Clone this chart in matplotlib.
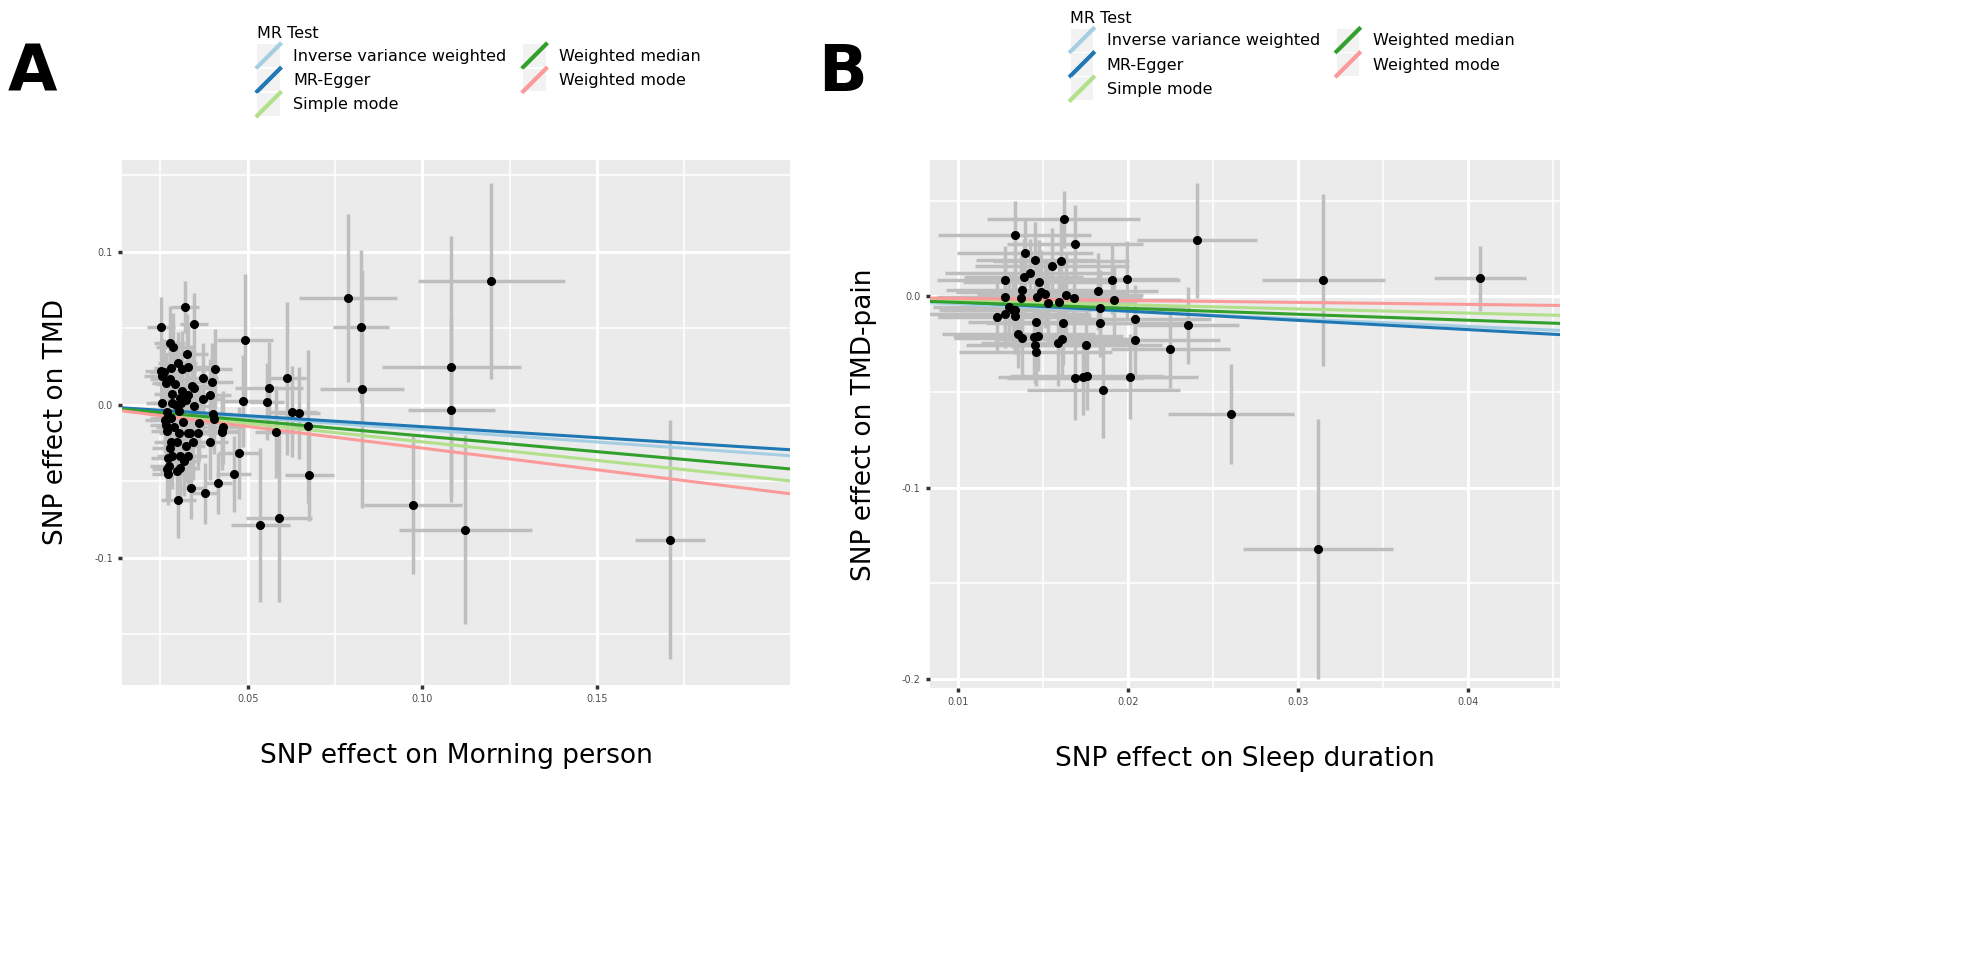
import matplotlib.pyplot as plt
import numpy as np
from matplotlib.legend_handler import HandlerBase
from matplotlib.lines import Line2D
from matplotlib.patches import Rectangle

# ---- panel A: Morning person -> TMD ----
a_x = [0.0252, 0.0321, 0.0346, 0.0493, 0.0788, 0.0825, 0.1198, 0.1083, 0.0827, 0.1083,
       0.0561, 0.0613, 0.0485, 0.0555, 0.0627, 0.0647, 0.0581, 0.0673, 0.0676, 0.0474,
       0.0460, 0.0416, 0.0377, 0.0336, 0.0301, 0.0393, 0.0425, 0.0974, 0.1123, 0.0590,
       0.0536, 0.1710,
       0.0276, 0.0286, 0.0325, 0.0299, 0.0281, 0.0312, 0.0328, 0.0252, 0.0259, 0.0254,
       0.0276, 0.0405, 0.0371, 0.0397, 0.0266, 0.0292, 0.0339, 0.0347, 0.0313, 0.0282,
       0.0329, 0.0392, 0.0373, 0.0306, 0.0323, 0.0282, 0.0254, 0.0294, 0.0347, 0.0309,
       0.0269, 0.0302, 0.0262, 0.0279, 0.0315, 0.0359, 0.0400, 0.0403, 0.0266, 0.0288,
       0.0302, 0.0269, 0.0328, 0.0335, 0.0356, 0.0280, 0.0296, 0.0343, 0.0323, 0.0276,
       0.0284, 0.0306, 0.0328, 0.0272, 0.0318, 0.0274, 0.0306, 0.0270, 0.0298, 0.0272,
       0.0429, 0.0425]
a_y = [0.0506, 0.0636, 0.0529, 0.0423, 0.0698, 0.0510, 0.0808, 0.0250, 0.0103, -0.0034,
       0.0110, 0.0174, 0.0027, 0.0021, -0.0044, -0.0052, -0.0176, -0.0140, -0.0456, -0.0316,
       -0.0453, -0.0512, -0.0577, -0.0545, -0.0622, -0.0240, -0.0178, -0.0654, -0.0815, -0.0741,
       -0.0785, -0.0882,
       0.0405, 0.0378, 0.0332, 0.0275, 0.0240, 0.0234, 0.0249, 0.0222, 0.0213, 0.0190,
       0.0169, 0.0234, 0.0172, 0.0151, 0.0140, 0.0133, 0.0121, 0.0112, 0.0089, 0.0071,
       0.0062, 0.0067, 0.0041, 0.0044, 0.0030, 0.0012, 0.0009, 0.0000, -0.0009, 0.0009,
       -0.0044, -0.0041, -0.0098, -0.0089, -0.0115, -0.0119, -0.0062, -0.0094, -0.0133, -0.0142,
       -0.0181, -0.0174, -0.0187, -0.0183, -0.0183, -0.0245, -0.0245, -0.0243, -0.0272, -0.0279,
       -0.0337, -0.0332, -0.0332, -0.0350, -0.0368, -0.0400, -0.0414, -0.0417, -0.0432, -0.0453,
       -0.0147, -0.0169]
a_sex = [0.0040, 0.0040, 0.0040, 0.0080, 0.0140, 0.0080, 0.0210, 0.0200, 0.0120, 0.0125,
         0.0098, 0.0055, 0.0060, 0.0050, 0.0070, 0.0060, 0.0060, 0.0040, 0.0070, 0.0060,
         0.0050, 0.0040, 0.0040, 0.0040, 0.0050, 0.0050, 0.0050, 0.0140, 0.0190, 0.0095,
         0.0085, 0.0100,
         0.0045, 0.0050, 0.0060, 0.0055, 0.0050, 0.0045, 0.0060, 0.0045, 0.0040, 0.0050,
         0.0055, 0.0050, 0.0045, 0.0060, 0.0040, 0.0055, 0.0060, 0.0050, 0.0045, 0.0050,
         0.0055, 0.0060, 0.0050, 0.0045, 0.0055, 0.0060, 0.0045, 0.0050, 0.0055, 0.0060,
         0.0045, 0.0050, 0.0055, 0.0060, 0.0050, 0.0065, 0.0055, 0.0060, 0.0045, 0.0050,
         0.0055, 0.0045, 0.0060, 0.0050, 0.0055, 0.0050, 0.0045, 0.0060, 0.0055, 0.0050,
         0.0045, 0.0050, 0.0055, 0.0050, 0.0045, 0.0055, 0.0050, 0.0045, 0.0050, 0.0045,
         0.0060, 0.0050]
a_sey = [0.020, 0.017, 0.020, 0.043, 0.055, 0.050, 0.064, 0.085, 0.078, 0.060,
         0.030, 0.050, 0.030, 0.025, 0.030, 0.030, 0.030, 0.050, 0.030, 0.030,
         0.025, 0.020, 0.020, 0.020, 0.025, 0.025, 0.025, 0.045, 0.062, 0.055,
         0.050, 0.078,
         0.024, 0.022, 0.026, 0.020, 0.022, 0.025, 0.028, 0.020, 0.022, 0.024,
         0.021, 0.026, 0.023, 0.025, 0.020, 0.022, 0.027, 0.024, 0.022, 0.020,
         0.025, 0.023, 0.022, 0.024, 0.026, 0.021, 0.020, 0.025, 0.023, 0.022,
         0.024, 0.026, 0.021, 0.022, 0.025, 0.024, 0.022, 0.023, 0.021, 0.024,
         0.022, 0.020, 0.026, 0.023, 0.024, 0.022, 0.021, 0.025, 0.023, 0.022,
         0.021, 0.024, 0.022, 0.020, 0.023, 0.021, 0.022, 0.020, 0.021, 0.020,
         0.024, 0.022]

# ---- panel B: Sleep duration -> TMD-pain ----
b_x = [0.01624, 0.01335, 0.01690, 0.01397, 0.01456, 0.01606, 0.01555, 0.01428, 0.01388, 0.01281,
       0.01481, 0.01905, 0.01994, 0.01380, 0.01490, 0.01513, 0.01827, 0.01639, 0.01686, 0.01468,
       0.01280, 0.01371, 0.01595, 0.01920, 0.01532, 0.01838, 0.01304, 0.01323, 0.01338, 0.01281,
       0.01336, 0.01232, 0.02042, 0.01462, 0.01618, 0.01837, 0.02352, 0.01357, 0.01380, 0.01449,
       0.01475, 0.01612, 0.01590, 0.01753, 0.02040, 0.01452, 0.01460, 0.02251, 0.01692, 0.01736,
       0.01760, 0.02011, 0.01856, 0.02608, 0.02407, 0.03150, 0.04070, 0.03120]
b_y = [0.0403, 0.0319, 0.0276, 0.0227, 0.0189, 0.0183, 0.0159, 0.0120, 0.0103, 0.0086,
       0.0077, 0.0087, 0.0089, 0.0036, 0.0024, 0.0014, 0.0026, 0.0006, -0.0006, -0.0003,
       -0.0003, -0.0007, -0.0029, -0.0021, -0.0036, -0.0060, -0.0053, -0.0071, -0.0069, -0.0091,
       -0.0103, -0.0109, -0.0120, -0.0133, -0.0139, -0.0137, -0.0151, -0.0194, -0.0220, -0.0213,
       -0.0209, -0.0221, -0.0246, -0.0254, -0.0229, -0.0254, -0.0290, -0.0277, -0.0426, -0.0419,
       -0.0414, -0.0419, -0.0490, -0.0616, 0.0293, 0.0084, 0.0094, -0.1320]
b_sex = [0.0045, 0.0045, 0.0040, 0.0040, 0.0035, 0.0040, 0.0045, 0.0050, 0.0035, 0.0040,
         0.0045, 0.0040, 0.0030, 0.0045, 0.0050, 0.0040, 0.0035, 0.0045, 0.0040, 0.0045,
         0.0040, 0.0050, 0.0045, 0.0040, 0.0045, 0.0050, 0.0045, 0.0040, 0.0045, 0.0050,
         0.0045, 0.0035, 0.0045, 0.0040, 0.0045, 0.0050, 0.0030, 0.0045, 0.0040, 0.0045,
         0.0050, 0.0040, 0.0045, 0.0045, 0.0050, 0.0040, 0.0045, 0.0035, 0.0040, 0.0050,
         0.0045, 0.0040, 0.0045, 0.0037, 0.0035, 0.0036, 0.0027, 0.0044]
b_sey = [0.015, 0.018, 0.020, 0.018, 0.020, 0.022, 0.020, 0.018, 0.020, 0.018,
         0.022, 0.018, 0.020, 0.020, 0.022, 0.018, 0.020, 0.022, 0.020, 0.018,
         0.020, 0.022, 0.020, 0.018, 0.022, 0.020, 0.018, 0.020, 0.022, 0.018,
         0.020, 0.018, 0.018, 0.020, 0.022, 0.018, 0.020, 0.018, 0.020, 0.022,
         0.018, 0.020, 0.022, 0.020, 0.018, 0.020, 0.018, 0.020, 0.022, 0.020,
         0.018, 0.022, 0.025, 0.026, 0.030, 0.045, 0.017, 0.068]

methods = ["Inverse variance weighted", "MR-Egger", "Simple mode", "Weighted median", "Weighted mode"]
colors = ["#A6CEE3", "#1F78B4", "#B2DF8A", "#33A02C", "#FB9A99"]
a_slopes = [-0.162, -0.143, -0.242, -0.204, -0.283]
a_intercepts = [0.0, 0.0, 0.0, 0.0, 0.0]
b_slopes = [-0.392, -0.484, -0.218, -0.311, -0.104]
b_intercepts = [0.0, 0.002, 0.0, 0.0, 0.0]


class DiagKey(HandlerBase):
    def create_artists(self, legend, orig, xd, yd, w, h, fs, trans):
        s = max(w, h) * 0.95
        x0 = -xd + (w - s) / 2
        y0 = -yd + (h - s) / 2
        bg = Rectangle((x0, y0), s, s, facecolor="#F2F2F2", edgecolor="none", transform=trans)
        ln = Line2D([x0, x0 + s], [y0, y0 + s], color=orig.get_color(), lw=3, transform=trans)
        return [bg, ln]


def draw_panel(ax, x, y, sex, sey, slopes, intercepts, xlim, ylim, xticks, yticks, xlabel, ylabel):
    ax.set_facecolor("#EBEBEB")
    x = np.array(x)
    y = np.array(y)
    ax.errorbar(x, y, yerr=sey, fmt="none", ecolor="#BEBEBE", elinewidth=2.5, zorder=2)
    ax.errorbar(x, y, xerr=sex, fmt="none", ecolor="#BEBEBE", elinewidth=2.5, zorder=2)
    ax.plot(x, y, "o", color="black", ms=5.5, zorder=4)
    xs = np.array(xlim)
    for m, c, s, b in zip(methods, colors, slopes, intercepts):
        ax.plot(xs, b + s * xs, color=c, lw=2.2, zorder=3, label=m)
    ax.set_xticks(xticks)
    ax.set_yticks(yticks)
    dx = xticks[1] - xticks[0]
    dy = yticks[1] - yticks[0]
    ax.set_xticks([t - dx / 2 for t in xticks] + [xticks[-1] + dx / 2], minor=True)
    ax.set_yticks([t - dy / 2 for t in yticks] + [yticks[-1] + dy / 2], minor=True)
    ax.set_xlim(xlim)
    ax.set_ylim(ylim)
    ax.grid(True, which="major", color="white", lw=2.2, zorder=0)
    ax.grid(True, which="minor", color="white", lw=1.1, zorder=0)
    ax.set_axisbelow(True)
    for sp in ax.spines.values():
        sp.set_visible(False)
    ax.tick_params(which="major", length=3, width=2.5, color="#333333", labelsize=7, labelcolor="#4D4D4D")
    ax.tick_params(which="minor", length=0)
    ax.set_xlabel(xlabel, fontsize=19, labelpad=28)
    ax.set_ylabel(ylabel, fontsize=19, labelpad=18)
    handles = ax.get_lines()[-5:]
    leg = ax.legend(handles, methods,
                    title="MR Test", ncol=2, loc="lower left", bbox_to_anchor=(0.18, 1.06),
                    frameon=False, fontsize=11.5, title_fontsize=11.5,
                    handler_map={Line2D: DiagKey()}, handlelength=1.5, handleheight=1.5,
                    labelspacing=0.3, columnspacing=1.0, handletextpad=0.8)
    leg._legend_box.align = "left"


fig = plt.figure(figsize=(19.82, 9.6), dpi=100)
ax1 = fig.add_axes([0.0616, 0.2865, 0.337, 0.547])
ax2 = fig.add_axes([0.469, 0.283, 0.318, 0.550])

draw_panel(ax1, a_x, a_y, a_sex, a_sey, a_slopes, a_intercepts,
           (0.014, 0.2053), (-0.183, 0.160), [0.05, 0.10, 0.15], [-0.1, 0.0, 0.1],
           "SNP effect on Morning person", "SNP effect on TMD")
ax1.set_xticklabels(["0.05", "0.10", "0.15"])
ax1.set_yticklabels(["-0.1", "0.0", "0.1"])
draw_panel(ax2, b_x, b_y, b_sex, b_sey, b_slopes, b_intercepts,
           (0.00835, 0.0454), (-0.205, 0.0712), [0.01, 0.02, 0.03, 0.04], [-0.2, -0.1, 0.0],
           "SNP effect on Sleep duration", "SNP effect on TMD-pain")
ax2.set_xticklabels(["0.01", "0.02", "0.03", "0.04"])
ax2.set_yticklabels(["-0.2", "-0.1", "0.0"])
ax2.get_legend().set_bbox_to_anchor((0.2, 1.09))

fig.text(0.004, 0.905, "A", fontsize=46, fontweight="bold")
fig.text(0.413, 0.905, "B", fontsize=46, fontweight="bold")

fig.savefig("out.png", dpi=100)
